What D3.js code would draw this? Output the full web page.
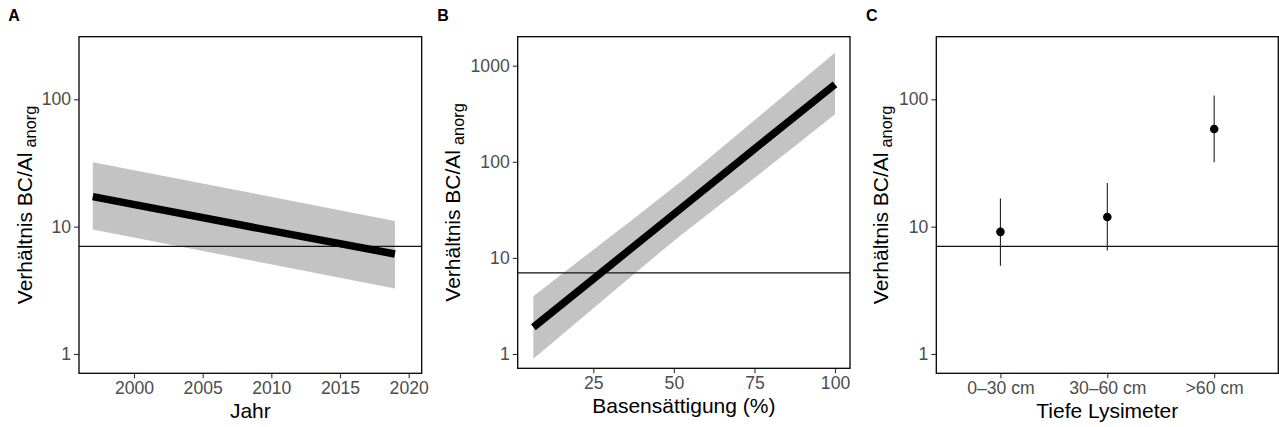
<!DOCTYPE html>
<html><head><meta charset="utf-8">
<script src="https://cdn.jsdelivr.net/npm/d3@7"></script>
<style>body{margin:0;background:#fff}svg{display:block}text{font-family:"Liberation Sans",Arial,sans-serif}</style>
</head><body>
<svg id="c" width="1279" height="427"></svg>
<script>
// Panel A: trend over years
const yearsA = [1997, 2008, 2019];
const fitA   = [17.2, 10.2, 6.1];
const upperA = [32.1, 18.9, 11.1];
const lowerA = [9.5, 5.58, 3.27];
const xTicksA = [2000, 2005, 2010, 2015, 2020];

// Panel B: base saturation
const bsB    = [6.4, 30, 52, 75, 100];
const fitB   = [1.9, 8.24, 32.4, 136, 640];
const upperB = [4.0, 16.4, 61.8, 271, 1365];
const lowerB = [0.89, 4.13, 17.0, 68, 312];
const xTicksB = [25, 50, 75, 100];

// Panel C: lysimeter depth
const depthC = ["0\u201330 cm", "30\u201360 cm", ">60 cm"];
const meanC  = [9.1, 11.9, 58.4];
const hiC    = [16.6, 22.0, 107];
const loC    = [4.93, 6.5, 32];

const yTicksAC = [1, 10, 100];
const yTicksB  = [1, 10, 100, 1000];
const refLine = 7;

const svg = d3.select("#c");
const tickCol = "#4D4D4D";

function panel(box, xScale, yScale, xTicks, yTicks, xFmt, xTitle, letter, letterX, yTitleX) {
  const g = svg.append("g");
  const xa = g.append("g").attr("transform", `translate(0,${box.b})`)
    .call(d3.axisBottom(xScale).tickValues(xTicks).tickFormat(xFmt).tickSize(5).tickPadding(3));
  const ya = g.append("g").attr("transform", `translate(${box.l},0)`)
    .call(d3.axisLeft(yScale).tickValues(yTicks).tickFormat(d3.format("d")).tickSize(5).tickPadding(3));
  [xa, ya].forEach(a => {
    a.select(".domain").remove();
    a.selectAll(".tick line").attr("stroke", "#333").attr("stroke-width", 1.1);
    a.selectAll(".tick text").attr("fill", tickCol).style("font-size", "17.6px")
      .style("font-family", '"Liberation Sans",Arial,sans-serif');
  });
  g.append("text").attr("x", (box.l + box.r) / 2).attr("y", box.b + 44.5)
    .attr("text-anchor", "middle").style("font-size", "21px").attr("fill", "#000").text(xTitle);
  const yt = g.append("text")
    .attr("transform", `translate(${yTitleX},${(box.t + box.b) / 2}) rotate(-90)`)
    .attr("text-anchor", "middle").style("font-size", "21px").attr("fill", "#000");
  yt.append("tspan").text("Verhältnis BC/Al");
  yt.append("tspan").attr("dx", 5).attr("dy", 4).style("font-size", "16.3px").text("anorg");
  g.append("text").attr("x", letterX).attr("y", 20.7).style("font-size", "16px")
    .style("font-weight", "bold").text(letter);
  return g;
}

function frame(g, box) {
  g.append("rect").attr("x", box.l).attr("y", box.t).attr("width", box.r - box.l)
    .attr("height", box.b - box.t).attr("fill", "none").attr("stroke", "#000").attr("stroke-width", 1.3);
}

// ---------- Panel A ----------
const boxA = {l: 79, r: 421.7, t: 36.7, b: 373.3};
const xA = d3.scaleLinear().domain([1995.996, 2020.95]).range([boxA.l, boxA.r]);
const yA = d3.scaleLog().domain([0.7055, 310.1]).range([boxA.b, boxA.t]);
const gA = panel(boxA, xA, yA, xTicksA, yTicksAC, d3.format("d"), "Jahr", "A", 8.3, 31.5);
const dA = yearsA.map((x, i) => ({x, f: fitA[i], u: upperA[i], l: lowerA[i]}));
gA.append("path").datum(dA).attr("fill", "#C3C3C3")
  .attr("d", d3.area().x(d => xA(d.x)).y0(d => yA(d.l)).y1(d => yA(d.u)));
gA.append("line").attr("x1", boxA.l).attr("x2", boxA.r).attr("y1", yA(refLine)).attr("y2", yA(refLine))
  .attr("stroke", "#111").attr("stroke-width", 1.2);
gA.append("path").datum(dA).attr("fill", "none").attr("stroke", "#000").attr("stroke-width", 7.5)
  .attr("d", d3.line().x(d => xA(d.x)).y(d => yA(d.f)));
frame(gA, boxA);

// ---------- Panel B ----------
const boxB = {l: 517.7, r: 850, t: 36.7, b: 368.3};
const xB = d3.scaleLinear().domain([1.54, 104.65]).range([boxB.l, boxB.r]);
const yB = d3.scaleLog().domain([0.7099, 2003]).range([boxB.b, boxB.t]);
const gB = panel(boxB, xB, yB, xTicksB, yTicksB, d3.format("d"), "Basensättigung (%)", "B", 437.3, 460);
const dB = bsB.map((x, i) => ({x, f: fitB[i], u: upperB[i], l: lowerB[i]}));
gB.append("path").datum(dB).attr("fill", "#C3C3C3")
  .attr("d", d3.area().curve(d3.curveMonotoneX).x(d => xB(d.x)).y0(d => yB(d.l)).y1(d => yB(d.u)));
gB.append("line").attr("x1", boxB.l).attr("x2", boxB.r).attr("y1", yB(refLine)).attr("y2", yB(refLine))
  .attr("stroke", "#111").attr("stroke-width", 1.2);
gB.append("path").datum(dB).attr("fill", "none").attr("stroke", "#000").attr("stroke-width", 7.5)
  .attr("d", d3.line().x(d => xB(d.x)).y(d => yB(d.f)));
frame(gB, boxB);

// ---------- Panel C ----------
const boxC = {l: 936.3, r: 1278.3, t: 36.7, b: 373.3};
const xC = d3.scalePoint().domain(depthC).range([boxC.l, boxC.r]).padding(0.6);
const yC = d3.scaleLog().domain([0.7055, 310.1]).range([boxC.b, boxC.t]);
const gC = panel(boxC, xC, yC, depthC, yTicksAC, d => d, "Tiefe Lysimeter", "C", 866, 888);
gC.append("line").attr("x1", boxC.l).attr("x2", boxC.r).attr("y1", yC(refLine)).attr("y2", yC(refLine))
  .attr("stroke", "#111").attr("stroke-width", 1.2);
const dC = depthC.map((c, i) => ({c, m: meanC[i], h: hiC[i], l: loC[i]}));
gC.selectAll(".eb").data(dC).join("line").attr("class", "eb")
  .attr("x1", d => xC(d.c)).attr("x2", d => xC(d.c)).attr("y1", d => yC(d.l)).attr("y2", d => yC(d.h))
  .attr("stroke", "#222").attr("stroke-width", 1.1);
gC.selectAll(".pt").data(dC).join("circle").attr("class", "pt")
  .attr("cx", d => xC(d.c)).attr("cy", d => yC(d.m)).attr("r", 4.3).attr("fill", "#000");
frame(gC, boxC);
</script>
</body></html>
